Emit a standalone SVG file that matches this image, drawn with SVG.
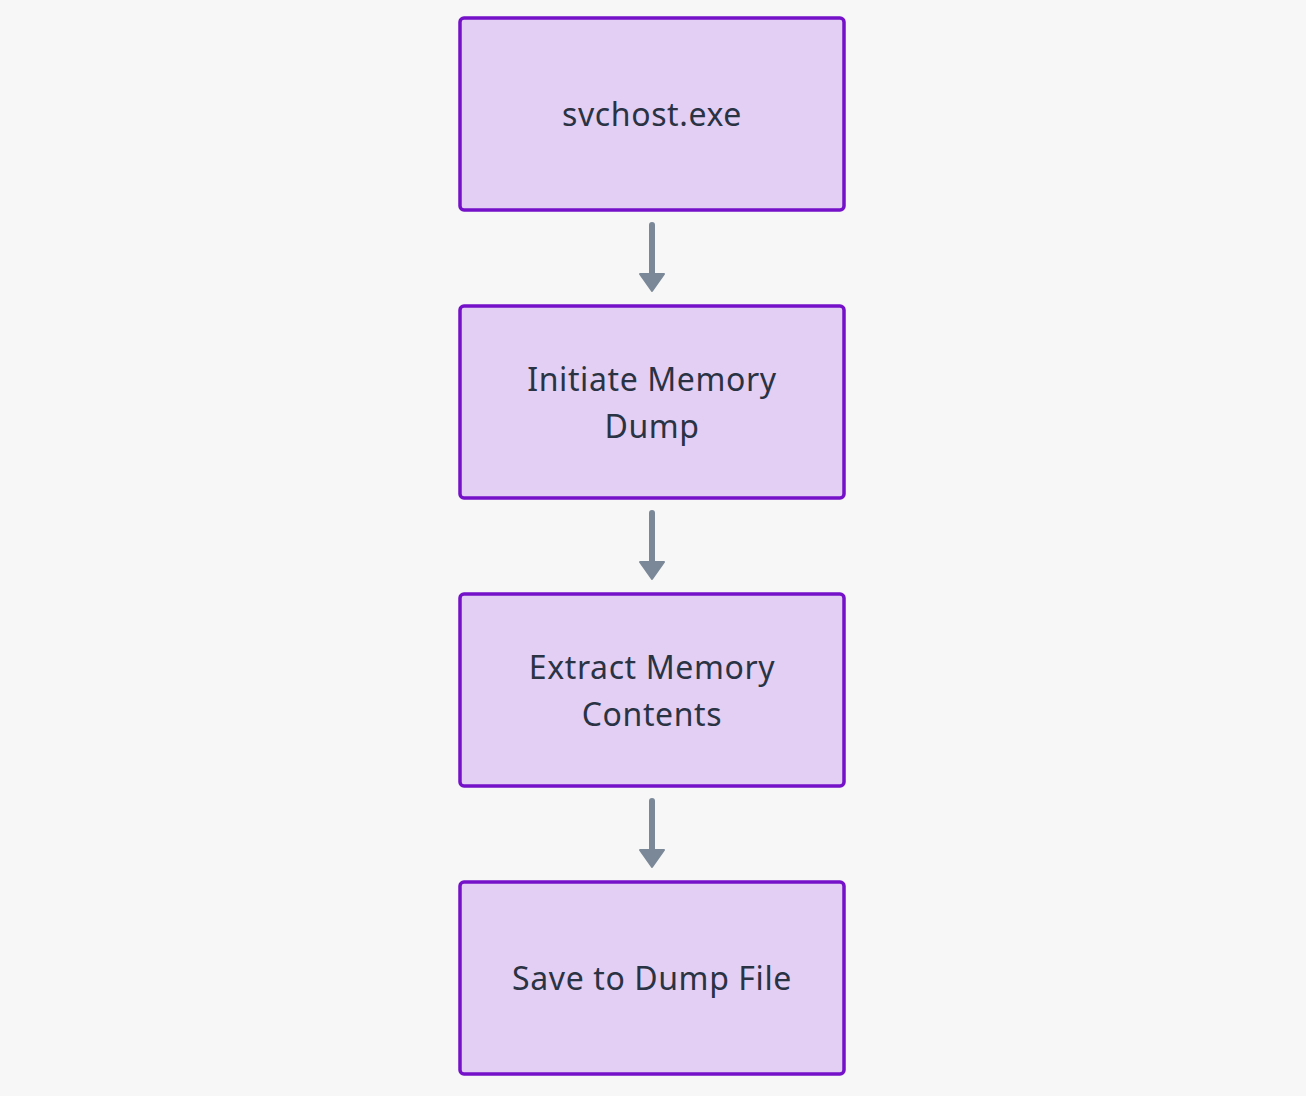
<svg xmlns="http://www.w3.org/2000/svg" width="1306" height="1096" viewBox="0 0 1306 1096">
<style>
.box{fill:#e3cff3;stroke:#7512c9;stroke-width:3.5}
.lbl{font-family:"Noto Sans","DejaVu Sans",sans-serif;font-size:32px;fill:#2a3344;text-anchor:middle;letter-spacing:0.6px}
.edge{stroke:#7a8898;stroke-width:6;stroke-linecap:round;fill:none}
.head{fill:#7a8898;stroke:#7a8898;stroke-width:2;stroke-linejoin:round}
</style>
<rect width="1306" height="1096" fill="#f7f7f7"/>
<g id="connectors">
<line class="edge" x1="652" y1="225" x2="652" y2="276"/>
<polygon class="head" points="640,274 664,274 652,291"/>
<line class="edge" x1="652" y1="513" x2="652" y2="564"/>
<polygon class="head" points="640,562 664,562 652,579"/>
<line class="edge" x1="652" y1="801" x2="652" y2="852"/>
<polygon class="head" points="640,850 664,850 652,867"/>
</g>
<g id="node1">
<rect class="box" x="460" y="18" width="384" height="192" rx="4"/>
<text class="lbl" x="652" y="126">svchost.exe</text>
</g>
<g id="node2">
<rect class="box" x="460" y="306" width="384" height="192" rx="4"/>
<text class="lbl" x="652" y="391">Initiate Memory</text>
<text class="lbl" x="652" y="438">Dump</text>
</g>
<g id="node3">
<rect class="box" x="460" y="594" width="384" height="192" rx="4"/>
<text class="lbl" x="652" y="679">Extract Memory</text>
<text class="lbl" x="652" y="726">Contents</text>
</g>
<g id="node4">
<rect class="box" x="460" y="882" width="384" height="192" rx="4"/>
<text class="lbl" x="652" y="990">Save to Dump File</text>
</g>
</svg>
